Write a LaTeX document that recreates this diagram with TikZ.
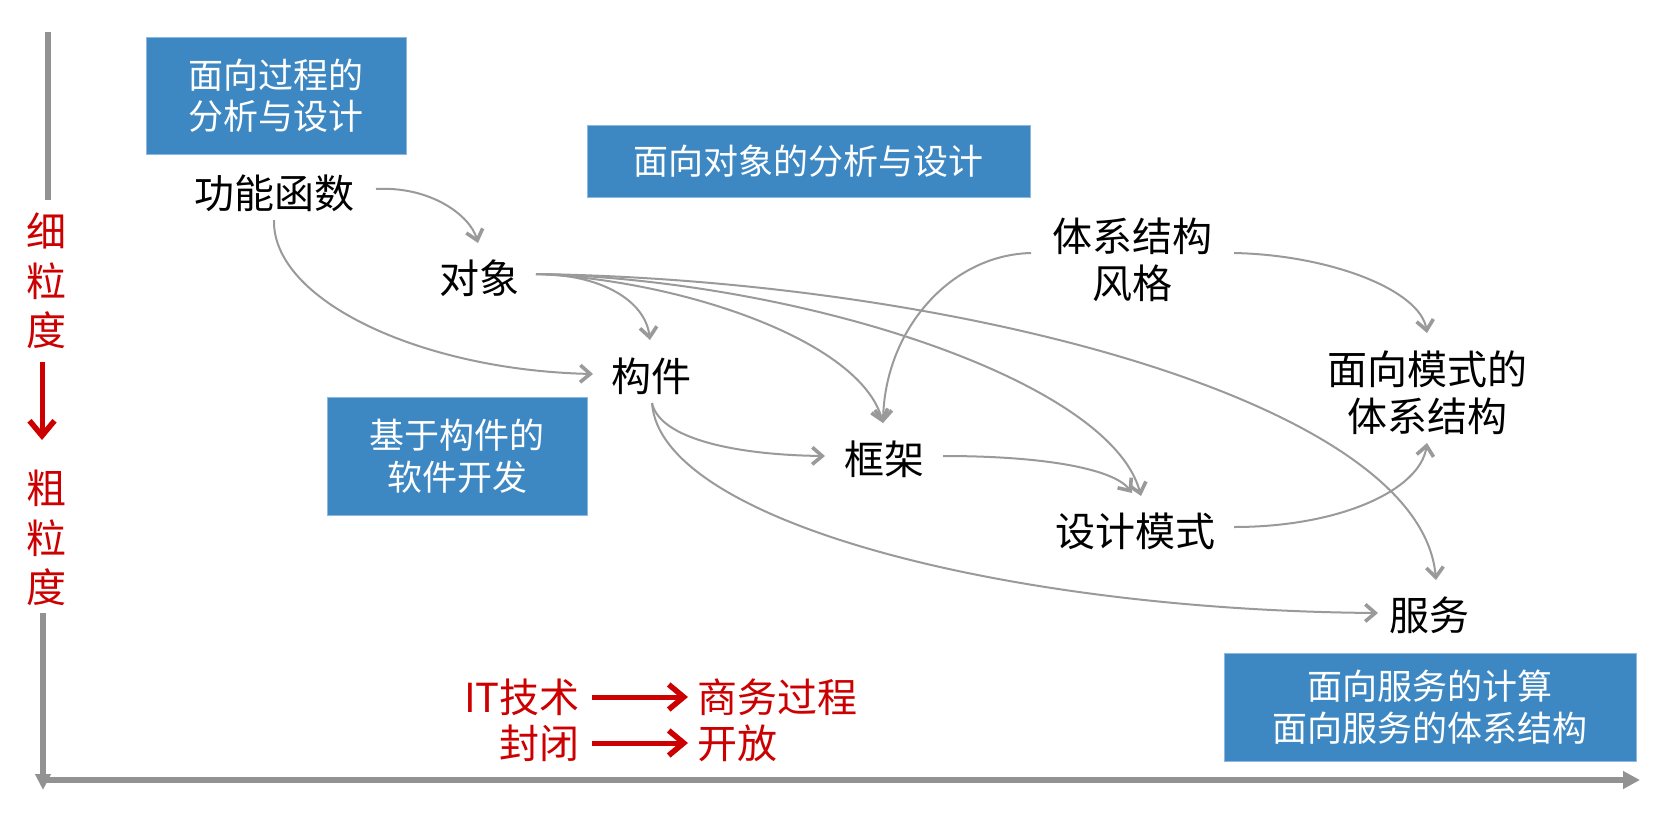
\documentclass[tikz,border=0pt]{standalone}
\usepackage{fontspec}
\setmainfont{Noto Sans CJK SC}
\usetikzlibrary{arrows.meta,calc}
\definecolor{boxblue}{HTML}{3D88C3}
\definecolor{boxedge}{HTML}{8DB8DF}
\definecolor{conngray}{HTML}{9A9A9A}
\definecolor{axisgray}{HTML}{929292}
\definecolor{redtxt}{HTML}{CC0000}
\begin{document}
\begin{tikzpicture}[x=1pt,y=-1pt,
  lbl/.style={inner sep=0pt, align=center, font=\fontsize{40pt}{47pt}\selectfont},
  bbox/.style={fill=boxblue, draw=boxedge, line width=1pt, text=white, align=center, inner sep=0pt, font=\fontsize{35pt}{41.5pt}\selectfont},
  conn/.style={draw=conngray, line width=2pt, -{Straight Barb[length=10pt,width=17pt,line width=3.6pt]}},
  axisline/.style={draw=axisgray, line width=6pt},
  redlbl/.style={text=redtxt, inner sep=0pt, align=center, font=\fontsize{40pt}{49.5pt}\selectfont},
  redarr/.style={draw=redtxt, line width=5pt, -{Straight Barb[length=15pt,width=25pt,line width=5.5pt]}}
]
\useasboundingbox[fill=white] (0,0) rectangle (1670,822);

% axes
\coordinate (vtop1) at (48,32);
\coordinate (vtop2) at (48,200);
\coordinate (vbot1) at (43,613);
\coordinate (vbot2) at (43,790);
\coordinate (hx1) at (40,780);
\coordinate (hx2) at (1640,780);
\draw[axisline] (vtop1) -- (vtop2);
\draw[axisline,-{Triangle[length=16pt,width=15pt]}] (vbot1) -- (vbot2);
\draw[axisline,-{Triangle[length=17pt,width=17pt]}] (hx1) -- (hx2);

% vertical red labels
\node[redlbl] (fine) at (46,281) {细\\粒\\度};
\node[redlbl] (coarse) at (46,538) {粗\\粒\\度};
\coordinate (ra1) at (42,362);
\coordinate (ra2) at (42,440);
\draw[redarr] (ra1) -- (ra2);

% blue boxes
\node[bbox, minimum width=260pt, minimum height=117pt] (b1) at (276,95.5) {面向过程的\\分析与设计};
\node[bbox, minimum width=443pt, minimum height=72pt] (b2) at (808.5,161) {面向对象的分析与设计};
\node[bbox, minimum width=260pt, minimum height=118pt] (b3) at (457,456) {基于构件的\\软件开发};
\node[bbox, minimum width=412pt, minimum height=108pt] (b4) at (1430,707) {面向服务的计算\\面向服务的体系结构};

% concept labels
\node[lbl] (gn) at (274,193) {功能函数};
\node[lbl] (dx) at (479,278) {对象};
\node[lbl] (gz) at (651,376) {构件};
\node[lbl] (kj) at (884,459) {框架};
\node[lbl] (tx) at (1132,260) {体系结构\\风格};
\node[lbl] (ms) at (1427,393) {面向模式的\\体系结构};
\node[lbl] (sj) at (1135,531) {设计模式};
\node[lbl] (fw) at (1429,615) {服务};

% connectors
\draw[conn] ($(gn)+(102,-4)$) .. controls +(54,-3) and +(-8,-28) .. ($(dx)+(-1,-35)$);
\draw[conn] ($(gn)+(0,27)$) .. controls +(-2,80) and +(-173,-4) .. ($(gz)+(-58,-2)$);
\draw[conn] ($(dx)+(57,-4)$) .. controls +(64,0) and +(-5,-40) .. ($(gz)+(-1,-36)$);
\draw[conn] ($(dx)+(57,-4)$) .. controls +(144,6) and +(-23,-83) .. ($(kj)+(-1,-36)$);
\draw[conn] ($(dx)+(57,-4)$) .. controls +(264,6) and +(-31,-116) .. ($(sj)+(6,-35)$);
\draw[conn] ($(dx)+(57,-4)$) .. controls +(414,6) and +(-16,-180) .. ($(fw)+(7,-35)$);
\draw[conn] ($(gz)+(1,27)$) .. controls +(8,37) and +(-85,-1) .. ($(kj)+(-59,-3)$);
\draw[conn] ($(gz)+(1,27)$) .. controls +(8,117) and +(-378,-3) .. ($(fw)+(-51,-2)$);
\draw[conn] ($(tx)+(-101,-7)$) .. controls +(-81,2) and +(2,-93) .. ($(kj)+(-1,-36)$);
\draw[conn] ($(tx)+(102,-7)$) .. controls +(96,2) and +(-7,-43) .. ($(ms)+(0,-60)$);
\draw[conn] ($(kj)+(59,-3)$) .. controls +(107,0) and +(-17,-23) .. ($(sj)+(-3,-38)$);
\draw[conn] ($(sj)+(99,-4)$) .. controls +(106,0) and +(-7,47) .. ($(ms)+(0,50)$);

% bottom red legend
\node[redlbl, anchor=east] (it) at (580,697) {IT技术};
\node[redlbl, anchor=west] (sw) at (697,697) {商务过程};
\node[redlbl, anchor=east] (bb) at (580,743) {封闭};
\node[redlbl, anchor=west] (kf) at (697,743) {开放};
\draw[redarr, shorten <=12pt, shorten >=9pt] (it.east) -- (sw.west);
\draw[redarr, shorten <=12pt, shorten >=9pt] (bb.east) -- (kf.west);
\end{tikzpicture}
\end{document}
